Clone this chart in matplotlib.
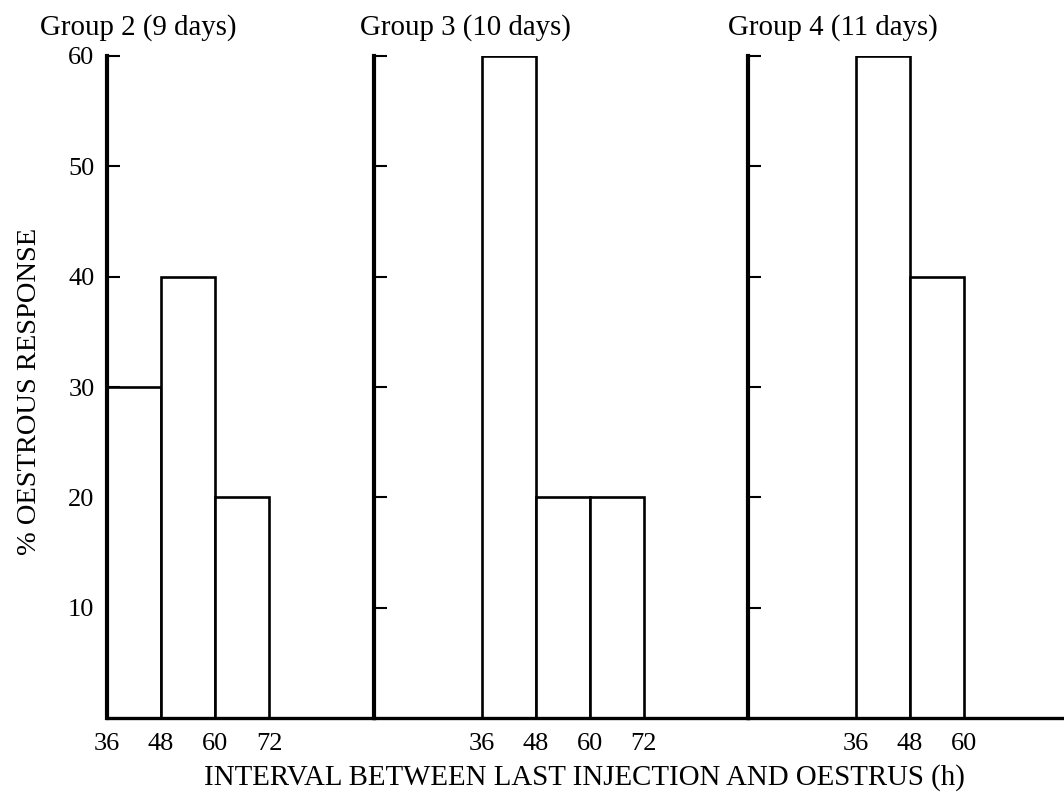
import matplotlib.pyplot as plt
import numpy as np

plt.rcParams['font.family'] = ['Liberation Serif', 'DejaVu Serif']

# bin edges (h) and % oestrous response per group
edges2 = [36, 48, 60, 72]
resp2 = [30, 40, 20]
edges3 = [36, 48, 60, 72]
resp3 = [60, 20, 20]
edges4 = [36, 48, 60]
resp4 = [60, 40]

titles = ['Group 2 (9 days)', 'Group 3 (10 days)', 'Group 4 (11 days)']
yticks = [10, 20, 30, 40, 50, 60]

W, H = 1064, 792
fig = plt.figure(figsize=(W / 100, H / 100), dpi=100)

pxh = 4.5  # pixels per hour
base_y = 718
top_y = 56
# (left px, right px, x-min in hours)
panels = [(107, 374, 36), (374, 748, 12), (748, 1064, 12)]
groups = [(edges2, resp2), (edges3, resp3), (edges4, resp4)]

for i, ((lpx, rpx, x0), (edges, resp)) in enumerate(zip(panels, groups)):
    ax = fig.add_axes([lpx / W, (H - base_y) / H, (rpx - lpx) / W, (base_y - top_y) / H])
    ax.set_xlim(x0, x0 + (rpx - lpx) / pxh)
    ax.set_ylim(0, 60)
    widths = np.diff(edges)
    ax.bar(edges[:-1], resp, width=widths, align='edge', color='white',
           edgecolor='black', linewidth=1.9, zorder=2)
    for s in ['top', 'right']:
        ax.spines[s].set_visible(False)
    ax.spines['left'].set_linewidth(3)
    ax.spines['bottom'].set_linewidth(2.4)
    ax.set_yticks(yticks)
    ax.tick_params(axis='y', direction='in', length=9, width=1.5, pad=9,
                   labelsize=19, labelleft=(i == 0))
    ax.set_xticks(edges)
    ax.set_xticklabels([str(e) for e in edges])
    ax.tick_params(axis='x', length=0, pad=11, labelsize=19)
    ax.patch.set_alpha(0)

tx = [40, 360, 728]
for t, x in zip(titles, tx):
    fig.text(x / W, 1 - 28 / H, t, fontsize=20.8, ha='left', va='center')

fig.text(584 / W, 1 - 778 / H, 'INTERVAL BETWEEN LAST INJECTION AND OESTRUS (h)',
         fontsize=20.8, ha='center', va='center')
fig.text(30 / W, 1 - 391 / H, '% OESTROUS RESPONSE', fontsize=20.5,
         rotation=90, ha='center', va='center')

fig.savefig('out.png', dpi=100)
